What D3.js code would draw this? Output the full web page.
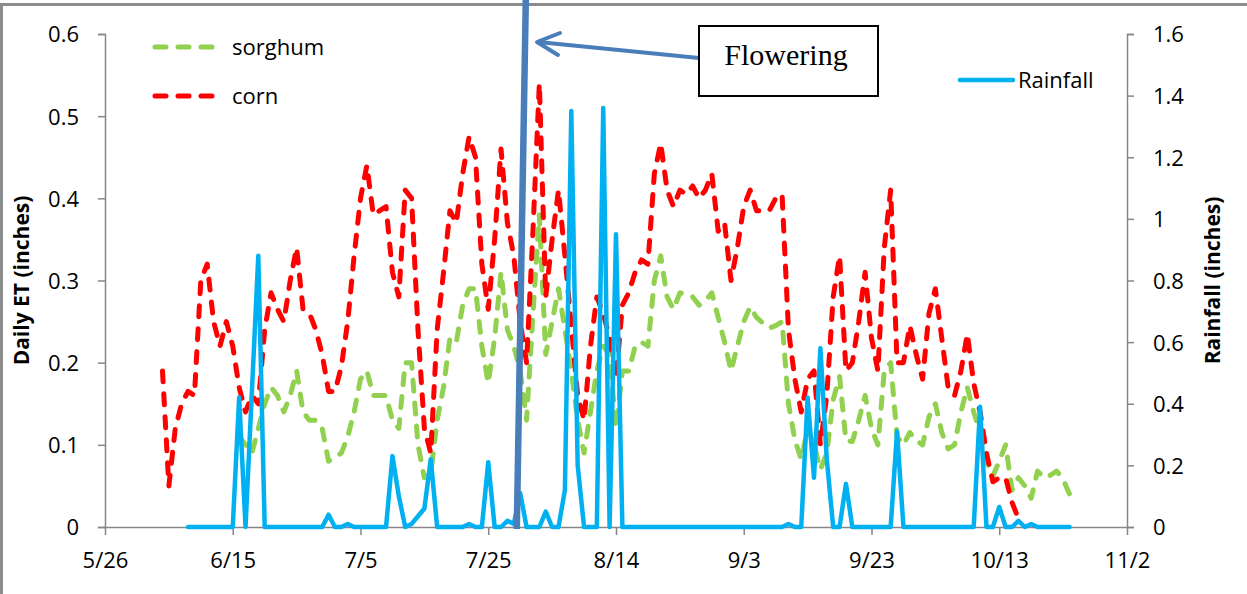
<!DOCTYPE html>
<html>
<head>
<meta charset="utf-8">
<script src="https://cdn.jsdelivr.net/npm/d3@7"></script>
<style>
body { margin: 0; background: #fff; }
svg { display: block; font-family: 'Open Sans', sans-serif; }
</style>
</head>
<body>
<div id="chart"></div>
<script>
// x range and tick labels (every 20 days)
var xStart = "5/26", xEnd = "11/2";
var xTickLabels = ["5/26", "6/15", "7/5", "7/25", "8/14", "9/3", "9/23", "10/13", "11/2"];
var etTicks = [0, 0.1, 0.2, 0.3, 0.4, 0.5, 0.6];
var rainTicks = [0, 0.2, 0.4, 0.6, 0.8, 1, 1.2, 1.4, 1.6];

// daily series, one value per day from the start date
var sorghumStart = "6/16";
var sorghum = [0.11, 0.10, 0.09, 0.12, 0.15, 0.17, 0.16, 0.14, 0.16, 0.19,
	0.14, 0.13, 0.13, 0.12, 0.08, 0.085, 0.09, 0.11, 0.14, 0.18,
	0.19, 0.16, 0.16, 0.16, 0.13, 0.12, 0.20, 0.20, 0.10, 0.06,
	0.065, 0.13, 0.17, 0.23, 0.225, 0.27, 0.29, 0.29, 0.22, 0.175,
	0.23, 0.31, 0.24, 0.22, 0.19, 0.13, 0.26, 0.38, 0.21, 0.25,
	0.29, 0.24, 0.19, 0.13, 0.09, 0.14, 0.19, 0.22, 0.21, 0.12,
	0.19, 0.19, 0.22, 0.225, 0.22, 0.30, 0.33, 0.28, 0.265, 0.285,
	0.283, 0.28, 0.27, 0.275, 0.285, 0.255, 0.225, 0.19, 0.22, 0.25,
	0.268, 0.255, 0.248, 0.242, 0.245, 0.25, 0.15, 0.106, 0.082, 0.12,
	0.10, 0.07, 0.09, 0.155, 0.183, 0.105, 0.104, 0.13, 0.16, 0.12,
	0.10, 0.19, 0.20, 0.11, 0.10, 0.115, 0.105, 0.10, 0.134, 0.15,
	0.115, 0.095, 0.10, 0.14, 0.17, 0.14, 0.115, 0.08, 0.062, 0.08,
	0.10, 0.045, 0.06, 0.05, 0.035, 0.068, 0.06, 0.063, 0.068, 0.058,
	0.04];

var cornStart = "6/4";
var corn = [0.19, 0.05, 0.12, 0.15, 0.165, 0.16, 0.30, 0.32, 0.25, 0.22,
	0.25, 0.22, 0.17, 0.14, 0.16, 0.15, 0.24, 0.285, 0.265, 0.25,
	0.30, 0.34, 0.265, 0.26, 0.24, 0.21, 0.165, 0.165, 0.195, 0.25,
	0.33, 0.40, 0.44, 0.38, 0.385, 0.39, 0.31, 0.28, 0.41, 0.40,
	0.24, 0.12, 0.09, 0.24, 0.31, 0.385, 0.37, 0.43, 0.475, 0.45,
	0.32, 0.265, 0.35, 0.46, 0.37, 0.33, 0.25, 0.20, 0.36, 0.54,
	0.28, 0.35, 0.41, 0.33, 0.245, 0.16, 0.13, 0.22, 0.28, 0.26,
	0.23, 0.18, 0.27, 0.285, 0.31, 0.325, 0.32, 0.43, 0.467, 0.41,
	0.39, 0.41, 0.405, 0.415, 0.40, 0.41, 0.43, 0.36, 0.37, 0.30,
	0.34, 0.39, 0.41, 0.385, 0.385, 0.385, 0.40, 0.405, 0.24, 0.18,
	0.14, 0.18, 0.19, 0.10, 0.16, 0.28, 0.33, 0.19, 0.20, 0.25,
	0.31, 0.23, 0.19, 0.34, 0.41, 0.20, 0.20, 0.245, 0.21, 0.18,
	0.26, 0.29, 0.23, 0.17, 0.16, 0.19, 0.235, 0.175, 0.14, 0.09,
	0.055, 0.06, 0.06, 0.03, 0.01];

var rainStart = "6/8";
var rainfall = [0, 0, 0, 0, 0, 0, 0, 0, 0.42, 0,
	0.44, 0.88, 0, 0, 0, 0, 0, 0, 0, 0,
	0, 0, 0.04, 0, 0, 0.01, 0, 0, 0, 0,
	0, 0, 0.23, 0.1, 0, 0.01, 0.035, 0.06, 0.22, 0,
	0, 0, 0, 0, 0.01, 0, 0, 0.21, 0, 0,
	0.02, 0.01, 0.11, 0, 0, 0, 0.05, 0, 0, 0.12,
	1.35, 0.2, 0, 0, 0, 1.36, 0, 0.95, 0, 0,
	0, 0, 0, 0, 0, 0, 0, 0, 0, 0,
	0, 0, 0, 0, 0, 0, 0, 0, 0, 0,
	0, 0, 0, 0, 0.01, 0, 0, 0.42, 0.16, 0.58,
	0.22, 0, 0, 0.14, 0, 0, 0, 0, 0, 0,
	0, 0.31, 0, 0, 0, 0, 0, 0, 0, 0,
	0, 0, 0, 0, 0.39, 0, 0, 0.065, 0, 0,
	0.02, 0, 0.01, 0, 0, 0, 0, 0, 0];

var floweringDay = "7/29";

var width = 1247, height = 594;
var plotLeft = 105, plotRight = 1127, plotTop = 34, plotBottom = 527;

var parseDay = function(s) { return d3.timeParse("%m/%d/%Y")(s + "/2012"); };

function toPoints(start, values) {
	var s = parseDay(start);
	return values.map(function(v, i) {
		return { date: d3.timeDay.offset(s, i), value: v };
	});
}

var svg = d3.select("#chart").append("svg")
	.attr("width", width)
	.attr("height", height);

// outer frame
svg.append("rect")
	.attr("x", 1.5).attr("y", 4.5)
	.attr("width", width + 10).attr("height", height + 10)
	.attr("fill", "#fff")
	.attr("stroke", "#8c8c8c")
	.attr("stroke-width", 3);

var x = d3.scaleTime()
	.domain([parseDay(xStart), parseDay(xEnd)])
	.range([plotLeft, plotRight]);

var yEt = d3.scaleLinear().domain([0, 0.6]).range([plotBottom, plotTop]);
var yRain = d3.scaleLinear().domain([0, 1.6]).range([plotBottom, plotTop]);

var axisColor = "#868686";

function styleAxis(g) {
	g.selectAll(".domain").attr("stroke", axisColor).attr("stroke-width", 1.5);
	g.selectAll(".tick line").attr("stroke", axisColor).attr("stroke-width", 1.5);
	g.selectAll(".tick text")
		.attr("fill", "#000")
		.style("font-size", "22px")
		.style("font-family", "'Open Sans', sans-serif");
}

var gx = svg.append("g")
	.attr("transform", "translate(0," + plotBottom + ")")
	.call(d3.axisBottom(x)
		.tickValues(xTickLabels.map(parseDay))
		.tickFormat(d3.timeFormat("%-m/%-d"))
		.tickSizeInner(8)
		.tickSizeOuter(0));
styleAxis(gx);
gx.selectAll(".tick text").attr("y", 41).attr("dy", 0);

var gl = svg.append("g")
	.attr("transform", "translate(" + plotLeft + ",0)")
	.call(d3.axisLeft(yEt)
		.tickValues(etTicks)
		.tickFormat(String)
		.tickSize(7)
		.tickPadding(19));
styleAxis(gl);
gl.selectAll(".tick text").attr("dy", "0.36em");

var gr = svg.append("g")
	.attr("transform", "translate(" + plotRight + ",0)")
	.call(d3.axisRight(yRain)
		.tickValues(rainTicks)
		.tickFormat(String)
		.tickSize(7)
		.tickPadding(19));
styleAxis(gr);
gr.selectAll(".tick text").attr("dy", "0.36em");

// axis titles
svg.append("text")
	.attr("transform", "translate(29," + (plotTop + plotBottom) / 2 + ") rotate(-90)")
	.attr("text-anchor", "middle")
	.style("font-size", "21px")
	.style("font-weight", 700)
	.text("Daily ET (inches)");

svg.append("text")
	.attr("transform", "translate(1220," + (plotTop + plotBottom) / 2 + ") rotate(-90)")
	.attr("text-anchor", "middle")
	.style("font-size", "21px")
	.style("font-weight", 700)
	.text("Rainfall (inches)");

var etLine = d3.line()
	.x(function(d) { return x(d.date); })
	.y(function(d) { return yEt(d.value); });

var rainLine = d3.line()
	.x(function(d) { return x(d.date); })
	.y(function(d) { return yRain(d.value); });

var dash = "11,12";

svg.append("path")
	.datum(toPoints(sorghumStart, sorghum))
	.attr("d", etLine)
	.attr("fill", "none")
	.attr("stroke", "#92d050")
	.attr("stroke-width", 5)
	.attr("stroke-dasharray", dash)
	.attr("stroke-linecap", "round")
	.attr("stroke-linejoin", "round");

svg.append("path")
	.datum(toPoints(cornStart, corn))
	.attr("d", etLine)
	.attr("fill", "none")
	.attr("stroke", "#ff0000")
	.attr("stroke-width", 5)
	.attr("stroke-dasharray", dash)
	.attr("stroke-linecap", "round")
	.attr("stroke-linejoin", "round");

svg.append("path")
	.datum(toPoints(rainStart, rainfall))
	.attr("d", rainLine)
	.attr("fill", "none")
	.attr("stroke", "#00b0f0")
	.attr("stroke-width", 4.5)
	.attr("stroke-linecap", "round")
	.attr("stroke-linejoin", "round");

// legends
var legend = [
	{ name: "sorghum", color: "#92d050", dash: dash, x1: 155, x2: 217, y: 47, tx: 232 },
	{ name: "corn", color: "#ff0000", dash: dash, x1: 155, x2: 217, y: 96, tx: 232 },
	{ name: "Rainfall", color: "#00b0f0", dash: null, x1: 960, x2: 1013, y: 80, tx: 1018 }
];

var lg = svg.selectAll(".legend")
	.data(legend)
	.enter()
	.append("g")
	.attr("class", "legend");

lg.append("line")
	.attr("x1", function(d) { return d.x1; })
	.attr("x2", function(d) { return d.x2; })
	.attr("y1", function(d) { return d.y; })
	.attr("y2", function(d) { return d.y; })
	.attr("stroke", function(d) { return d.color; })
	.attr("stroke-width", function(d) { return d.dash ? 5 : 4.5; })
	.attr("stroke-dasharray", function(d) { return d.dash; })
	.attr("stroke-linecap", "round");

lg.append("text")
	.attr("x", function(d) { return d.tx; })
	.attr("y", function(d) { return d.y; })
	.attr("dy", "0.36em")
	.style("font-size", "22px")
	.text(function(d) { return d.name; });

// flowering marker and callout
var fx = x(parseDay(floweringDay)) + 3;
var markColor = "#4a7ebb";

svg.append("line")
	.attr("x1", fx).attr("y1", plotBottom + 2)
	.attr("x2", fx + 9).attr("y2", 0)
	.attr("stroke", markColor)
	.attr("stroke-width", 6.5);

svg.append("line")
	.attr("x1", 699).attr("y1", 58)
	.attr("x2", 538).attr("y2", 42)
	.attr("stroke", markColor)
	.attr("stroke-width", 4);

svg.append("path")
	.attr("d", "M560,33 L537,42 L558,55")
	.attr("fill", "none")
	.attr("stroke", markColor)
	.attr("stroke-width", 4)
	.attr("stroke-linecap", "round")
	.attr("stroke-linejoin", "round");

svg.append("rect")
	.attr("x", 699).attr("y", 26)
	.attr("width", 179).attr("height", 70)
	.attr("fill", "#fff")
	.attr("stroke", "#000")
	.attr("stroke-width", 2);

svg.append("text")
	.attr("x", 786).attr("y", 65)
	.attr("text-anchor", "middle")
	.style("font-family", "'Liberation Serif', 'Times New Roman', serif")
	.style("font-size", "30px")
	.text("Flowering");
</script>
</body>
</html>
